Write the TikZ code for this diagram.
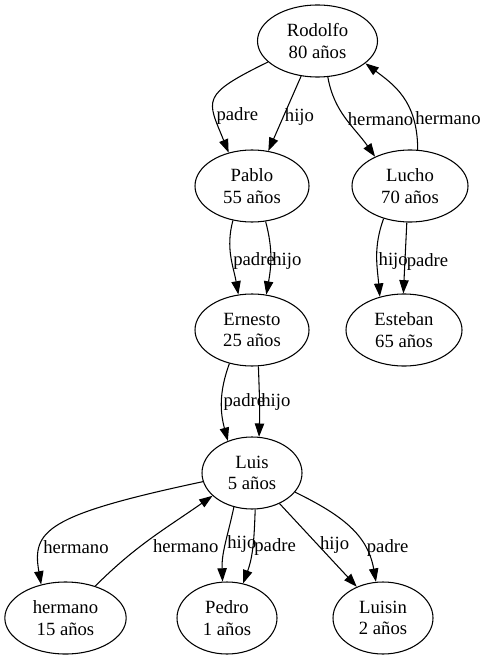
\documentclass[tikz,border=0pt]{standalone}
\usepackage{fontspec}
\setmainfont{Liberation Serif}
\usetikzlibrary{shapes.geometric,arrows.meta}

\begin{document}
\begin{tikzpicture}[
	x=0.75pt, y=0.75pt,
	>={Triangle[length=10pt,width=7pt]},
	line width=0.8pt,
	font=\fontsize{14}{16}\selectfont,
	person/.style={
		ellipse,
		draw,
		inner sep=0pt,
		minimum height=54pt,
		minimum width=#1,
		align=center
	},
	person/.default=75pt,
	rel/.style={right, inner sep=1pt}
	]
    \useasboundingbox (0,0) rectangle (487,-659);

    % generation 1
    \node[person=90pt] at (317.5,-41) (rodolfo) {Rodolfo\\80 años};
    % generation 2
    \node[person=85.5pt] at (252,-186) (pablo) {Pablo\\55 años};
    \node[person=87pt] at (410,-186) (lucho) {Lucho\\70 años};
    % generation 3
    \node[person=85.5pt] at (252,-330) (ernesto) {Ernesto\\25 años};
    \node[person=87pt] at (404,-330) (esteban) {Esteban\\65 años};
    % generation 4
    \node[person] at (252,-473) (luis) {Luis\\5 años};
    % generation 5
    \node[person=91pt] at (65.5,-618) (hermano) {hermano\\15 años};
    \node[person] at (227,-618) (pedro) {Pedro\\1 años};
    \node[person] at (383,-618) (luisin) {Luisin\\2 años};

    % rodolfo
    \draw[->] (rodolfo.203) to[out=206, in=112, out distance=57pt, in distance=43pt] node[rel, pos=0.7] {padre} (pablo.125);
    \draw[->] (rodolfo.245) -- node[rel, pos=0.55] {hijo} (pablo.65);
    \draw[->] (rodolfo.286) to[out=-80, in=125] node[rel] {hermano} (lucho.140);
    \draw[->] (lucho.78) to[out=90, in=-37, out distance=37pt, in distance=26pt] node[rel, pos=0.25] {hermano} (rodolfo.335);

    % pablo, lucho
    \draw[->] (pablo.241) to[out=255, in=100] node[rel, pos=0.55] {padre} (ernesto.111);
    \draw[->] (pablo.291) to[out=285, in=80] node[rel, pos=0.55] {hijo} (ernesto.68);
    \draw[->] (lucho.231) to[out=250, in=95] node[rel, pos=0.55] {hijo} (esteban.126);
    \draw[->] (lucho.265) -- node[rel, pos=0.55] {padre} (esteban.91);

    % ernesto
    \draw[->] (ernesto.236) to[out=250, in=105] node[rel] {padre} (luis.127);
    \draw[->] (ernesto.280) to[out=272, in=88] node[rel] {hijo} (luis.79);

    % luis
    \draw[->] (luis.190) to[out=192, in=100, out distance=120pt, in distance=41pt] node[rel, pos=0.72] {hermano} (hermano.126);
    \draw[->] (hermano.47) to[out=45, in=215] node[rel, pos=0.4, right=8pt] {hermano} (luis.210);
    \draw[->] (luis.242) to[out=258, in=92] node[rel] {hijo} (pedro.97);
    \draw[->] (luis.275) to[out=268, in=70] node[rel] {padre} (pedro.65);
    \draw[->] (luis.312) -- node[rel] {hijo} (luisin.130);
    \draw[->] (luis.336) to[out=-26, in=100, out distance=40pt] node[rel, pos=0.72] {padre} (luisin.101);

\end{tikzpicture}
\end{document}
